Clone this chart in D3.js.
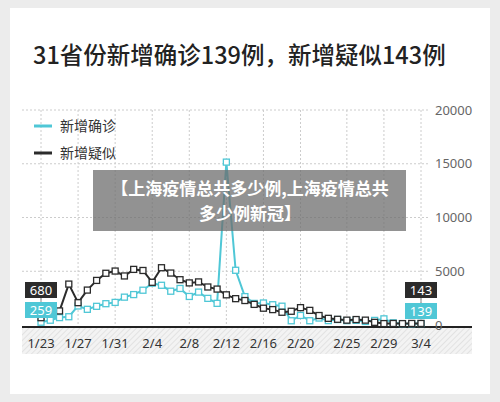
<!DOCTYPE html><html><head><meta charset="utf-8"><script src="https://cdn.jsdelivr.net/npm/d3@7"></script>
<style>body{margin:0;background:#ececec}svg{display:block}</style></head><body><svg id="c" width="500" height="402"></svg>
<script>
const dates=["1/23","1/24","1/25","1/26","1/27","1/28","1/29","1/30","1/31","2/1","2/2","2/3","2/4","2/5","2/6","2/7","2/8","2/9","2/10","2/11","2/12","2/13","2/14","2/15","2/16","2/17","2/18","2/19","2/20","2/21","2/22","2/23","2/24","2/25","2/26","2/27","2/28","2/29","3/1","3/2","3/3","3/4"];
const confirmed=[259,444,688,769,1771,1459,1737,1982,2102,2590,2829,3235,3887,3694,3143,3399,2656,3062,2478,2015,15152,5090,2641,2009,2048,1886,1749,394,889,397,648,409,508,406,433,327,427,573,202,125,119,139];
const suspected=[680,1118,1309,3806,2077,3248,4148,4812,5019,4562,5173,5072,3971,5328,4833,4214,3916,4008,3536,3342,2807,2450,2277,1918,1563,1432,1185,1277,1614,1361,882,620,530,452,508,452,248,132,141,129,143,143];
const tickLabels=["1/23","1/27","1/31","2/4","2/8","2/12","2/16","2/20","2/25","2/29","3/4"];
const yTicks=[0,5000,10000,15000,20000];
const svg=d3.select("#c");
const F="'Noto Sans CJK SC','Noto Sans',sans-serif";
svg.append("rect").attr("x",10).attr("y",8).attr("width",480).attr("height",386).attr("fill","#fff");
svg.append("text").attr("x",33).attr("y",64).attr("font-family",F).attr("font-size",23.5).attr("font-weight",500).attr("fill","#222").text("31省份新增确诊139例，新增疑似143例");
const x=d3.scalePoint().domain(dates).range([41,421]);
const y=d3.scaleLinear().domain([0,20000]).range([325,110]);
const g=svg.append("g");
const defs=svg.append("defs");
const p=defs.append("pattern").attr("id","h").attr("width",4).attr("height",4).attr("patternUnits","userSpaceOnUse").attr("patternTransform","rotate(45)");
p.append("rect").attr("width",4).attr("height",4).attr("fill","#f3f3f3");
p.append("line").attr("x1",0).attr("y1",0).attr("x2",0).attr("y2",4).attr("stroke","#ddd").attr("stroke-width",1.5);
g.append("rect").attr("x",22).attr("y",327).attr("width",450).attr("height",27).attr("fill","url(#h)");
g.selectAll(".vg").data(tickLabels).join("line").attr("x1",d=>x(d)).attr("x2",d=>x(d)).attr("y1",110).attr("y2",325).attr("stroke","#ccc").attr("stroke-dasharray","2,2");
g.selectAll(".hg").data(yTicks.slice(1)).join("line").attr("x1",22).attr("x2",430).attr("y1",d=>y(d)).attr("y2",d=>y(d)).attr("stroke","#ccc").attr("stroke-dasharray","2,2");
g.append("line").attr("x1",22).attr("x2",472).attr("y1",327).attr("y2",327).attr("stroke","#222").attr("stroke-width",2);
const ya=d3.axisRight(y).tickValues(yTicks).tickSize(0).tickFormat(d3.format("d"));
const ag=svg.append("g").attr("transform","translate(430,0)").call(ya);
ag.select(".domain").remove();
ag.selectAll("text").attr("font-family","'Noto Sans',sans-serif").attr("font-size",13).attr("fill","#666").attr("dx",2);
g.selectAll(".xl").data(tickLabels).join("text").attr("x",d=>x(d)).attr("y",348).attr("text-anchor","middle").attr("font-family","'Noto Sans',sans-serif").attr("font-size",13).attr("fill","#333").text(d=>d);
function series(vals,col){
  const line=d3.line().x((d,i)=>x(dates[i])).y(d=>y(d));
  g.append("path").attr("d",line(vals)).attr("fill","none").attr("stroke",col).attr("stroke-width",2);
  g.selectAll(null).data(vals).join("rect").attr("x",(d,i)=>x(dates[i])-3).attr("y",d=>y(d)-3).attr("width",6).attr("height",6).attr("fill","#fff").attr("stroke",col).attr("stroke-width",1.3);
}
series(confirmed,"#4fc7d6");
series(suspected,"#2b2b2b");
[["新增确诊","#4fc7d6",126],["新增疑似","#2b2b2b",153]].forEach(([t,c,yy])=>{
  svg.append("line").attr("x1",34).attr("x2",52).attr("y1",yy).attr("y2",yy).attr("stroke",c).attr("stroke-width",3);
  svg.append("text").attr("x",60).attr("y",yy+5).attr("font-family",F).attr("font-size",14).attr("fill","#333").text(t);
});
function tag(cx,cy,txt,col){
  svg.append("rect").attr("x",cx-16).attr("y",cy-8).attr("width",32).attr("height",16).attr("fill",col);
  svg.append("text").attr("x",cx).attr("y",cy+5).attr("text-anchor","middle").attr("font-family","'Noto Sans',sans-serif").attr("font-size",13).attr("fill","#fff").text(txt);
}
svg.append("line").attr("x1",x(dates[0])).attr("x2",x(dates[0])).attr("y1",298).attr("y2",y(suspected[0])).attr("stroke","#888");
svg.append("line").attr("x1",x(dates[41])).attr("x2",x(dates[41])).attr("y1",298).attr("y2",318).attr("stroke","#888");
tag(41,290,suspected[0],"#2b2b2b");
tag(41,310,confirmed[0],"#4fc7d6");
tag(421,290,suspected[41],"#2b2b2b");
tag(421,311,confirmed[41],"#4fc7d6");
svg.append("rect").attr("x",93).attr("y",170).attr("width",313).attr("height",61).attr("fill","rgba(110,110,110,0.75)");
svg.append("text").attr("x",250).attr("y",195).attr("text-anchor","middle").attr("font-family",F).attr("font-size",17).attr("font-weight",700).attr("fill","#fff").text("【上海疫情总共多少例,上海疫情总共");
svg.append("text").attr("x",250).attr("y",220).attr("text-anchor","middle").attr("font-family",F).attr("font-size",17).attr("font-weight",700).attr("fill","#fff").text("多少例新冠】");
</script></body></html>
